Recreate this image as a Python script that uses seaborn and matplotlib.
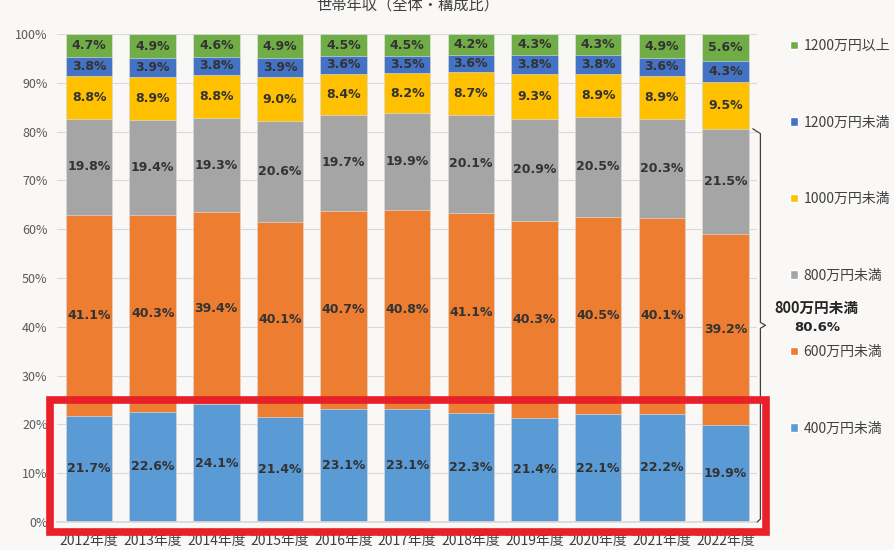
import numpy as np
import pandas as pd
import matplotlib.pyplot as plt
import seaborn as sns
from matplotlib.patches import Patch, Rectangle

# data (percent)
years = ['2012年度', '2013年度', '2014年度', '2015年度', '2016年度', '2017年度',
         '2018年度', '2019年度', '2020年度', '2021年度', '2022年度']
under400 = [21.7, 22.6, 24.1, 21.4, 23.1, 23.1, 22.3, 21.4, 22.1, 22.2, 19.9]
under600 = [41.1, 40.3, 39.4, 40.1, 40.7, 40.8, 41.1, 40.3, 40.5, 40.1, 39.2]
under800 = [19.8, 19.4, 19.3, 20.6, 19.7, 19.9, 20.1, 20.9, 20.5, 20.3, 21.5]
under1000 = [8.8, 8.9, 8.8, 9.0, 8.4, 8.2, 8.7, 9.3, 8.9, 8.9, 9.5]
under1200 = [3.8, 3.9, 3.8, 3.9, 3.6, 3.5, 3.6, 3.8, 3.8, 3.6, 4.3]
over1200 = [4.7, 4.9, 4.6, 4.9, 4.5, 4.5, 4.2, 4.3, 4.3, 4.9, 5.6]

series = ['400万円未満', '600万円未満', '800万円未満', '1000万円未満', '1200万円未満', '1200万円以上']
colors = ['#5B9BD5', '#ED7D31', '#A5A5A5', '#FFC000', '#4472C4', '#70AD47']

df = pd.DataFrame({'year': years, series[0]: under400, series[1]: under600,
                   series[2]: under800, series[3]: under1000,
                   series[4]: under1200, series[5]: over1200})
vals = df[series]
share = vals.div(vals.sum(axis=1), axis=0) * 100   # 100% stacked
cum = share.cumsum(axis=1)

sns.set_theme(style='white')
plt.rcParams['font.family'] = ['Noto Sans CJK JP', 'DejaVu Sans']

bg = '#FAF8F6'
fig = plt.figure(figsize=(8.94, 5.5), dpi=100, facecolor=bg)
ax = fig.add_axes([0.064, 0.051, 0.783, 0.887], facecolor=bg)

# draw cumulative bars from the top down so they overlap into stacks
for i in range(len(series) - 1, -1, -1):
    sns.barplot(x=df['year'], y=cum[series[i]], color=colors[i], width=0.73,
                saturation=1, ax=ax, zorder=2, edgecolor='#E8E8E8', linewidth=0.4)

# segment labels
for i, s in enumerate(series):
    mids = cum[s] - share[s] / 2
    for j in range(len(years)):
        ax.text(j, mids.iloc[j], f'{vals[s].iloc[j]:.1f}%', ha='center', va='center',
                fontsize=9, fontweight='bold', color='#333333',
                family='DejaVu Sans', zorder=3)

ax.set_ylim(0, 100)
ax.set_xlim(-0.5, len(years) - 0.5)
ax.set_yticks(np.arange(0, 101, 10))
ax.set_yticklabels([f'{v}%' for v in range(0, 101, 10)], fontsize=9, color='#595959')
ax.yaxis.grid(True, color='#D9D9D9', linewidth=0.8, zorder=0)
ax.set_axisbelow(True)
ax.set_xlabel('')
ax.set_ylabel('')
ax.tick_params(axis='x', length=0, labelsize=10, labelcolor='#404040', pad=9)
ax.tick_params(axis='y', length=0, pad=7)
ax.set_xticks(np.arange(-0.5, len(years), 1), minor=True)
ax.tick_params(axis='x', which='minor', length=28, color='#D9D9D9', width=0.8)
for sp in ['top', 'right', 'left']:
    ax.spines[sp].set_visible(False)
ax.spines['bottom'].set_color('#D9D9D9')

# title (cut at the top edge like the reference)
fig.text(0.456, 0.99, '世帯年収（全体・構成比）', ha='center', va='center',
         fontsize=11, color='#404040')

# bracket for the 800万円未満 total
total800 = cum[series[2]].iloc[-1]
bx = len(years) - 0.5 + 0.05
mid = total800 / 2
ax.plot([bx - 0.12, bx, bx, bx + 0.08, bx, bx, bx - 0.05],
        [total800, total800 - 1, mid + 0.6, mid, mid - 0.6, 0.6, 0],
        color='#404040', linewidth=0.9, clip_on=False, zorder=4)
ax.text(bx + 0.22, mid + 3.6, '800万円未満', fontsize=10.5, fontweight='bold',
        color='#262626', ha='left', va='center', clip_on=False)
ax.text(bx + 0.53, mid - 0.5, f'{total800:.1f}%', fontsize=9.5, fontweight='bold',
        color='#262626', ha='left', va='center', family='DejaVu Sans', clip_on=False)

# red highlight around the lowest band
ax.add_patch(Rectangle((-0.61, -2.1), len(years) + 0.25, 27.1, fill=False,
                       edgecolor='#E8202A', linewidth=5.5, clip_on=False, zorder=5))

# legend on the right
handles = [Patch(facecolor=colors[i], label=series[i]) for i in range(len(series) - 1, -1, -1)]
fig.legend(handles=handles, loc='upper left', bbox_to_anchor=(0.87, 0.952),
           frameon=False, fontsize=10, labelspacing=4.5, handlelength=0.55,
           handleheight=0.55, handletextpad=0.4, labelcolor='#404040')

fig.savefig('out.png', dpi=100, facecolor=bg)
